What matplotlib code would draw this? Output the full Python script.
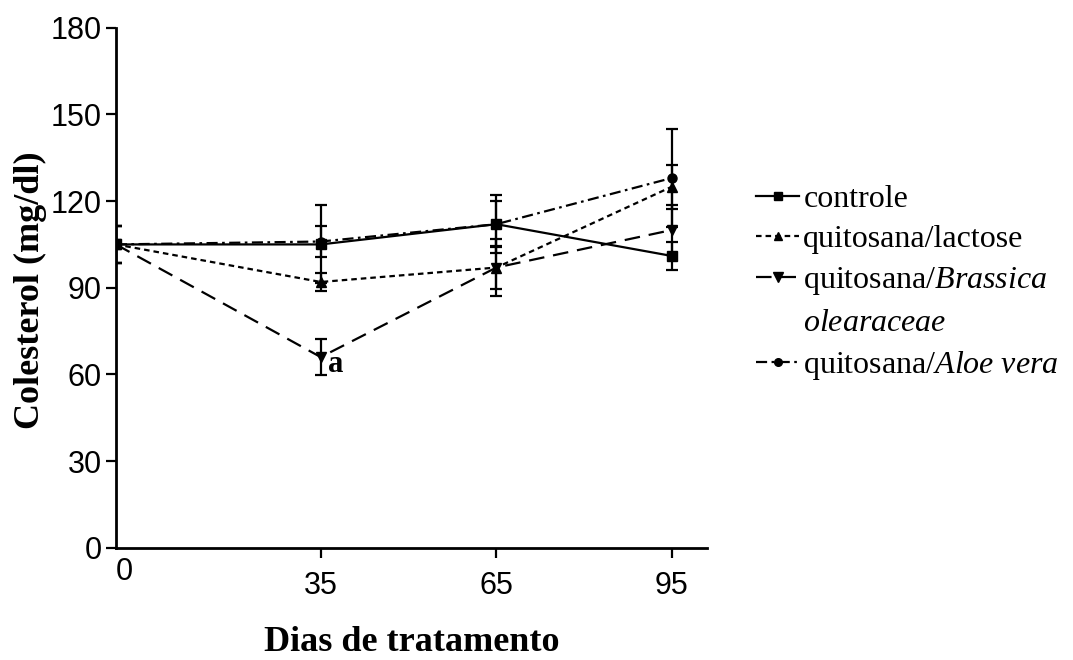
import numpy as np
import matplotlib; matplotlib.use('Agg'); import matplotlib.pyplot as plt

plt.rcParams.update({'mathtext.fontset':'custom','mathtext.it':'Liberation Serif:italic',
    'mathtext.rm':'Liberation Serif','font.family':'Liberation Serif'})

dias=[0,35,65,95]
controle=[105,105,112,101];      controle_err=[6.5,13.5,10,5]
lactose=[105,92,97,125];         lactose_err=[6.5,3,7.5,7.6]
brassica=[105,66,97,110];        brassica_err=[6.5,6.2,10,8.7]
aloe=[105,106,112,128];          aloe_err=[6.5,5.5,8,17]
xticks=[35,65,95]; yticks=[0,30,60,90,120,150,180]

fig=plt.figure(figsize=(10.73,6.6),dpi=100)
ax=fig.add_axes([0.108,0.170,0.551,0.788])

series=[('controle',controle,controle_err,'-','s',6.5),
        ('quitosana/lactose',lactose,lactose_err,(0,(2.5,1.8)),'^',7),
        ('quitosana/$\\mathit{Brassica}$',brassica,brassica_err,(0,(7,4)),'v',7.5),
        ('quitosana/$\\mathit{Aloe\\ vera}$',aloe,aloe_err,(0,(5,2,1.2,2)),'o',6.5)]
handles=[]
for lab,v,e,ls,mk,ms in series:
    ax.errorbar(dias,v,yerr=e,color='black',ls=ls,lw=1.6,marker=mk,ms=ms,
                elinewidth=1.6,capsize=4,capthick=1.6)
    handles.append(plt.Line2D([],[],color='black',ls=ls,lw=1.6,marker=mk,ms=ms-1))

ax.text(36.3,brassica[1]-2.5,'a',fontsize=22,fontweight='bold',va='center',ha='left')

ax.set_xlim(0,101); ax.set_ylim(0,180)
ax.set_xticks(xticks); ax.set_yticks(yticks)
for s in ['top','right']: ax.spines[s].set_visible(False)
for s in ['left','bottom']: ax.spines[s].set_linewidth(2)
ax.tick_params(axis='both',direction='out',length=7,width=1.6,labelsize=22,pad=3)
for t in ax.get_xticklabels()+ax.get_yticklabels(): t.set_fontfamily('Liberation Sans')
ax.tick_params(axis='x',pad=10)
ax.text(1.5,-8.3,'0',fontsize=22,family='Liberation Sans',ha='center',va='center')

ax.set_xlabel('Dias de tratamento',fontsize=26,fontweight='bold',va='baseline')
ax.xaxis.set_label_coords(0.5,-0.198)
ax.set_ylabel('Colesterol (mg/dl)',fontsize=26,fontweight='bold',va='center')
ax.yaxis.set_label_coords(-0.145,0.496)

blank=plt.Line2D([],[],color='none')
leg_h=[handles[0],handles[1],handles[2],blank,handles[3]]
leg_l=['controle','quitosana/lactose','quitosana/$\\mathit{Brassica}$',
       '$\\mathit{olearaceae}$','quitosana/$\\mathit{Aloe\\ vera}$']
fig.legend(leg_h,leg_l,loc='upper left',bbox_to_anchor=(0.693,0.740),frameon=False,
           fontsize=23,handlelength=1.35,handletextpad=0.12,labelspacing=0.35,borderaxespad=0)

fig.savefig('out.png',dpi=100)
